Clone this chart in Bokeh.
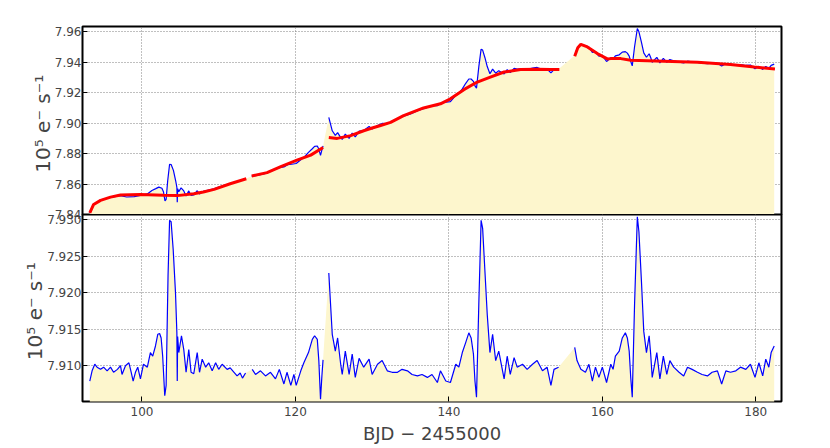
import numpy as np
from bokeh.plotting import figure
from bokeh.layouts import column
from bokeh.models import Range1d, FixedTicker, NumeralTickFormatter
from bokeh.embed import file_html
from bokeh.resources import INLINE

NaN = float("nan")

# ---------------- data ----------------
# Top panel: raw flux (blue), NaN marks a gap in the time series
flux_x = [93.2, 93.7, 94.6, 95.9, 97.2, 98.0, 99.0, 99.8, 100.7, 101.3, 101.8, 102.2, 102.6, 102.8,
          103.0, 103.15, 103.35, 103.6, 103.8, 104.1, 104.4, 104.55, 104.6, 104.65, 104.8, 105.1,
          105.45, 105.75, 106.1, 106.4, 106.75, 107.2, 107.5, 108.0, 108.7, 109.4, 110.0, 111.0,
          112.0, 113.0, 113.5, NaN,
          114.3, 115.0, 116.0, 117.0, 117.9, 118.5, 119.0, 119.5, 120.1, 120.7, 121.2, 121.7, 122.2,
          122.5, 122.85, 123.05, 123.27, 123.45, 123.6, NaN,
          124.35, 124.8, 125.2, 125.5, 125.9, 126.1, 126.5, 127.0, 127.4, 127.8, 128.3, 128.9, 129.6,
          130.0, 130.7, 131.3, 132.0, 133.0, 134.0, 135.0, 136.0, 137.0, 137.8, 138.5, 139.0, 139.6,
          140.2, 140.9, 141.3, 141.75, 142.2, 142.6, 142.9, 143.2, 143.4, 143.6, 143.9, 144.2, 144.4,
          144.7, 145.0, 145.35, 145.7, 146.1, 146.5, 147.2, 147.6, 148.0, 148.5, 148.9, 149.6, 150.2,
          150.9, 151.5, 152.2, 152.8, 153.3, 153.7, 154.3, NaN,
          156.4, 156.7, 157.2, 157.8, 158.25, 158.7, 159.1, 159.55, 160.0, 160.55, 161.1, 161.4,
          161.7, 162.2, 162.6, 163.0, 163.26, 163.5, 163.7, 163.9, 164.2, 164.56, 164.77, 165.1,
          165.4, 165.75, 166.1, 166.3, 166.5, 167.1, 167.5, 167.95, 168.4, 168.8, 169.3, 170.0,
          170.6, 171.1, 171.7, 172.4, 173.0, 173.7, 174.3, 175.0, 175.55, 176.1, 176.7, 177.4,
          178.0, 178.7, 179.3, 179.9, 180.4, 180.9, 181.3, 181.7, 182.0, 182.4]
flux_y = [7.8410, 7.8466, 7.8495, 7.8512, 7.8524, 7.8515, 7.8518, 7.8525, 7.8535, 7.8558, 7.8570,
          7.8580, 7.8572, 7.8550, 7.8490, 7.8500, 7.8620, 7.8730, 7.8728, 7.8690, 7.8620, 7.8578,
          7.8480, 7.8570, 7.8550, 7.8575, 7.8555, 7.8522, 7.8555, 7.8525, 7.8528, 7.8556, 7.8535,
          7.8552, 7.8560, 7.8568, 7.8580, 7.8595, 7.8612, 7.8625, 7.8635, NaN,
          7.8652, 7.8657, 7.8668, 7.8690, 7.8708, 7.8712, 7.8727, 7.8730, 7.8735, 7.8760, 7.8780,
          7.8808, 7.8832, 7.8848, 7.8850, 7.8830, 7.8788, 7.8825, 7.8850, NaN,
          7.9038, 7.8950, 7.8920, 7.8938, 7.8905, 7.8893, 7.8928, 7.8900, 7.8935, 7.8910, 7.8948,
          7.8952, 7.8978, 7.8962, 7.8985, 7.8998, 7.8997, 7.9022, 7.9045, 7.9060, 7.9083, 7.9100,
          7.9115, 7.9115, 7.9133, 7.9138, 7.9142, 7.9182, 7.9195, 7.9225, 7.9262, 7.9290, 7.9290,
          7.9275, 7.9245, 7.9230, 7.9370, 7.9486, 7.9480, 7.9430, 7.9372, 7.9325, 7.9355, 7.9328,
          7.9345, 7.9323, 7.9352, 7.9333, 7.9360, 7.9355, 7.9358, 7.9354, 7.9361, 7.9366, 7.9352,
          7.9356, 7.9330, 7.9352, 7.9355, NaN,
          7.9445, 7.9490, 7.9518, 7.9508, 7.9500, 7.9465, 7.9470, 7.9440, 7.9443, 7.9405, 7.9430,
          7.9423, 7.9442, 7.9449, 7.9467, 7.9470, 7.9460, 7.9440, 7.9405, 7.9376, 7.9502, 7.9622,
          7.9600, 7.9530, 7.9462, 7.9433, 7.9456, 7.9431, 7.9400, 7.9432, 7.9396, 7.9425, 7.9400,
          7.9418, 7.9409, 7.9401, 7.9396, 7.9407, 7.9403, 7.9399, 7.9395, 7.9391, 7.9394, 7.9394,
          7.9375, 7.9390, 7.9386, 7.9384, 7.9385, 7.9379, 7.9382, 7.9358, 7.9373, 7.9353, 7.9372,
          7.9360, 7.9380, 7.9388]

# Top panel: smooth trend (red)
trend_x = [93.2, 93.7, 94.6, 95.9, 97.2, 99.8, 102.8, 104.6, 106.75, 108.0, 109.4, 111.5, 113.6, NaN,
           114.3, 116.3, 118.1, 120.2, 122.0, 123.6, NaN,
           124.35, 125.45, 127.2, 128.9, 130.0, 131.1, 132.4, 134.1, 136.7, 138.9, 140.2, 141.95,
           143.7, 145.4, 147.2, 149.35, 151.5, 153.3, 154.4, NaN,
           156.4, 156.8, 157.2, 158.05, 159.35, 160.65, 161.1, 162.4, 163.7, 168.0, 172.4, 176.7,
           179.8, 182.5]
trend_y = [7.8410, 7.8466, 7.8493, 7.8514, 7.8528, 7.8532, 7.8526, 7.8524, 7.8536, 7.8548, 7.8565,
           7.8602, 7.8635, NaN,
           7.8653, 7.8675, 7.8715, 7.8757, 7.8790, 7.8840, NaN,
           7.8906, 7.8900, 7.8918, 7.8950, 7.8968, 7.8985, 7.9005, 7.9050, 7.9100, 7.9127, 7.9160,
           7.9220, 7.9270, 7.9303, 7.9336, 7.9352, 7.9354, 7.9352, 7.9352, NaN,
           7.9440, 7.9495, 7.9518, 7.9501, 7.9457, 7.9422, 7.9424, 7.9424, 7.9413, 7.9407, 7.9400,
           7.9385, 7.9369, 7.9356]

# Bottom panel: detrended flux (blue)
det_x = [93.2, 93.5, 93.85, 94.15, 94.6, 95.0, 95.46, 95.9, 96.3, 96.8, 97.2, 97.4, 97.85, 98.3,
         98.6, 98.85, 99.15, 99.45, 99.8, 100.2, 100.7, 101.1, 101.4, 101.76, 102.06, 102.3, 102.5,
         102.7, 102.97, 103.15, 103.4, 103.6, 103.8, 104.07, 104.37, 104.55, 104.6, 104.65, 104.8,
         105.15, 105.45, 105.75, 106.1, 106.4, 106.75, 107.2, 107.5, 107.85, 108.3, 108.7, 109.15,
         109.6, 110.0, 110.45, 111.1, 111.5, 112.0, 112.4, 112.8, 113.1, 113.5, NaN,
         114.37, 114.8, 115.45, 116.1, 116.75, 117.4, 117.9, 118.5, 118.9, 119.4, 119.8, 120.1,
         120.7, 121.1, 121.7, 122.2, 122.5, 122.85, 123.05, 123.27, 123.45, 123.6, NaN,
         124.35, 124.8, 125.2, 125.5, 125.9, 126.1, 126.5, 127.0, 127.4, 127.8, 128.3, 128.9,
         129.6, 130.0, 130.7, 131.3, 131.97, 132.6, 133.3, 133.9, 134.6, 135.2, 135.9, 136.5,
         137.2, 137.8, 138.5, 138.9, 139.6, 140.2, 140.9, 141.3, 141.75, 142.2, 142.6, 142.9,
         143.2, 143.4, 143.6, 143.9, 144.2, 144.4, 144.7, 145.0, 145.35, 145.7, 146.1, 146.5,
         147.2, 147.6, 148.0, 148.5, 148.9, 149.6, 150.2, 150.9, 151.5, 152.2, 152.8, 153.3,
         153.7, 154.3, NaN,
         156.4, 156.7, 157.2, 157.8, 158.25, 158.7, 159.1, 159.55, 160.0, 160.55, 161.1, 161.4,
         161.7, 162.2, 162.6, 163.0, 163.26, 163.5, 163.7, 163.9, 164.2, 164.56, 164.77, 165.1,
         165.4, 165.75, 166.1, 166.3, 166.5, 167.1, 167.5, 167.95, 168.4, 168.8, 169.3, 170.0,
         170.6, 171.1, 171.7, 172.4, 173.0, 173.7, 174.3, 175.0, 175.55, 176.1, 176.7, 177.4,
         178.0, 178.7, 179.3, 179.9, 180.4, 180.9, 181.3, 181.7, 182.0, 182.4]
det_y = [7.9079, 7.9093, 7.9102, 7.9098, 7.9095, 7.9098, 7.9093, 7.9098, 7.9091, 7.9095, 7.9100,
         7.9088, 7.9100, 7.9104, 7.9091, 7.9079, 7.9091, 7.9098, 7.9082, 7.9102, 7.9098, 7.9118,
         7.9113, 7.9127, 7.9143, 7.9144, 7.9138, 7.9113, 7.9059, 7.9073, 7.9224, 7.9299, 7.9297,
         7.9259, 7.9200, 7.9145, 7.9079, 7.9140, 7.9118, 7.9141, 7.9122, 7.9091, 7.9122, 7.9091,
         7.9089, 7.9118, 7.9091, 7.9109, 7.9098, 7.9104, 7.9093, 7.9104, 7.9095, 7.9102, 7.9095,
         7.9097, 7.9091, 7.9086, 7.9090, 7.9083, 7.9090, NaN,
         7.9095, 7.9088, 7.9093, 7.9086, 7.9091, 7.9082, 7.9095, 7.9075, 7.9091, 7.9073, 7.9088,
         7.9073, 7.9093, 7.9104, 7.9118, 7.9136, 7.9141, 7.9136, 7.9107, 7.9054, 7.9086, 7.9108, NaN,
         7.9227, 7.9143, 7.9120, 7.9138, 7.9102, 7.9088, 7.9120, 7.9088, 7.9116, 7.9084, 7.9110,
         7.9098, 7.9109, 7.9088, 7.9102, 7.9107, 7.9093, 7.9091, 7.9091, 7.9095, 7.9093, 7.9088,
         7.9086, 7.9088, 7.9084, 7.9088, 7.9077, 7.9093, 7.9079, 7.9077, 7.9102, 7.9098, 7.9118,
         7.9132, 7.9145, 7.9138, 7.9116, 7.9079, 7.9057, 7.9184, 7.9299, 7.9288, 7.9229, 7.9170,
         7.9118, 7.9143, 7.9107, 7.9120, 7.9082, 7.9113, 7.9088, 7.9111, 7.9098, 7.9102, 7.9095,
         7.9102, 7.9107, 7.9093, 7.9098, 7.9073, 7.9095, 7.9098, NaN,
         7.9125, 7.9107, 7.9095, 7.9091, 7.9102, 7.9079, 7.9098, 7.9084, 7.9098, 7.9077, 7.9102,
         7.9095, 7.9113, 7.9120, 7.9138, 7.9145, 7.9138, 7.9120, 7.9084, 7.9057, 7.9184, 7.9304,
         7.9283, 7.9215, 7.9147, 7.9118, 7.9141, 7.9116, 7.9084, 7.9118, 7.9082, 7.9113, 7.9088,
         7.9107, 7.9098, 7.9091, 7.9086, 7.9098, 7.9095, 7.9091, 7.9088, 7.9086, 7.9091, 7.9093,
         7.9075, 7.9093, 7.9091, 7.9093, 7.9098, 7.9095, 7.9102, 7.9084, 7.9104, 7.9086, 7.9109,
         7.9098, 7.9118, 7.9127]

x_ticks = [100, 120, 140, 160, 180]
x_tick_labels = ["100", "120", "140", "160", "180"]
top_y_ticks = [7.84, 7.86, 7.88, 7.90, 7.92, 7.94, 7.96]
top_y_tick_labels = ["7.84", "7.86", "7.88", "7.90", "7.92", "7.94", "7.96"]
bot_y_ticks = [7.910, 7.915, 7.920, 7.925, 7.930]
bot_y_tick_labels = ["7.910", "7.915", "7.920", "7.925", "7.930"]

y_label = "10\u2075 e\u207b  s\u207b\u00b9"
x_label = "BJD \u2212 2455000"

# ---------------- styling ----------------
FONT = "DejaVu Sans"
FILL = "#fdf6cd"
LEFT = 82
FRAME_W = 699
RIGHT = 12
WIDTH = LEFT + FRAME_W + RIGHT
OVERLAP = 8

x_range = Range1d(92.25, 183.35)
top_range = Range1d(7.84, 7.9635)
bot_range = Range1d(7.9051, 7.9307)


def style(p, yticks, ylabels, fmt):
    p.outline_line_color = "black"
    p.outline_line_width = 2
    p.outline_line_alpha = 1
    p.background_fill_color = "white"
    for g in p.grid:
        g.grid_line_color = "#808080"
        g.grid_line_dash = "1 2"
        g.grid_line_width = 1
    p.xgrid.ticker = FixedTicker(ticks=x_ticks)
    p.ygrid.ticker = FixedTicker(ticks=yticks)
    ax = p.yaxis[0]
    ax.ticker = FixedTicker(ticks=yticks)
    ax.formatter = NumeralTickFormatter(format=fmt)
    ax.major_label_overrides = dict(zip(yticks, ylabels))
    ax.axis_label = y_label
    ax.axis_label_text_font = FONT
    ax.axis_label_text_font_size = "20px"
    ax.axis_label_text_font_style = "normal"
    ax.axis_label_standoff = -3
    ax.major_label_text_font = FONT
    ax.major_label_text_font_size = "12px"
    ax.major_label_standoff = 1
    ax.major_tick_in = 5
    ax.major_tick_out = 0
    ax.minor_tick_line_color = None
    ax.axis_line_color = None


top = figure(width=WIDTH, height=26 + 188 + OVERLAP, x_range=x_range, y_range=top_range,
             output_backend="svg", toolbar_location=None, x_axis_location=None,
             min_border_left=LEFT, min_border_right=RIGHT, min_border_top=26,
             min_border_bottom=OVERLAP)
style(top, top_y_ticks, top_y_tick_labels, "0.00")
top.border_fill_color = "white"

bot = figure(width=WIDTH, height=188 + 44, x_range=x_range, y_range=bot_range,
             output_backend="svg", toolbar_location=None,
             min_border_left=LEFT, min_border_right=RIGHT, min_border_top=0, min_border_bottom=44,
             margin=(-OVERLAP, 0, 0, 0))
style(bot, bot_y_ticks, bot_y_tick_labels, "0.000")
bot.border_fill_alpha = 0
xa = bot.xaxis[0]
xa.ticker = FixedTicker(ticks=x_ticks)
xa.major_label_overrides = dict(zip(x_ticks, x_tick_labels))
xa.axis_label = x_label
xa.axis_label_text_font = FONT
xa.axis_label_text_font_size = "18px"
xa.axis_label_text_font_style = "normal"
xa.axis_label_standoff = 4
xa.major_label_text_font = FONT
xa.major_label_text_font_size = "12px"
xa.major_label_standoff = 5
xa.major_tick_in = 5
xa.major_tick_out = 0
xa.minor_tick_line_color = None
xa.axis_line_color = None

# ---------------- marks ----------------
fx = np.array(flux_x)
fy = np.array(flux_y)
m = ~np.isnan(fy)
top.varea(x=fx[m], y1=top_range.start - 1, y2=fy[m], fill_color=FILL, fill_alpha=1)
top.line(flux_x, flux_y, line_color="blue", line_width=1.2)
top.line(trend_x, trend_y, line_color="red", line_width=3)

dx = np.array(det_x)
dy = np.array(det_y)
m2 = ~np.isnan(dy)
bot.varea(x=dx[m2], y1=bot_range.start - 1, y2=dy[m2], fill_color=FILL, fill_alpha=1)
bot.line(det_x, det_y, line_color="blue", line_width=1.2)

layout = column(top, bot, spacing=0)
open("out.html", "w").write(file_html(layout, INLINE))
